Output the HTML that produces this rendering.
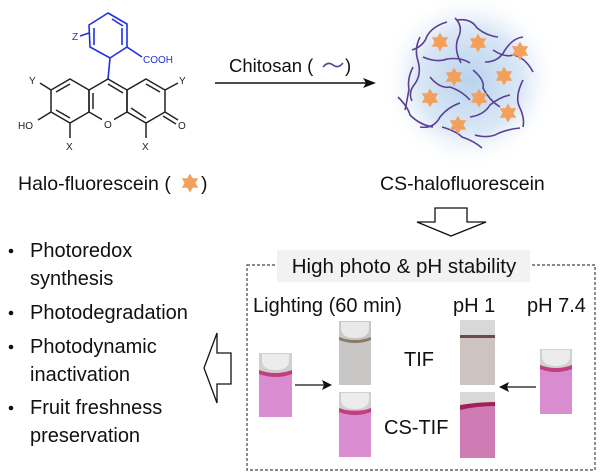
<!DOCTYPE html>
<html><head><meta charset="utf-8"><style>
html,body{margin:0;padding:0;background:#fff;}
svg{display:block;font-family:"Liberation Sans",Arial,sans-serif;}
</style></head><body>
<svg width="600" height="475" viewBox="0 0 600 475" xmlns="http://www.w3.org/2000/svg">
<defs>
<radialGradient id="glow" cx="0.5" cy="0.5" r="0.5">
<stop offset="0" stop-color="#b9d3ee"/>
<stop offset="0.6" stop-color="#dbe8f6"/>
<stop offset="1" stop-color="#ffffff" stop-opacity="0"/>
</radialGradient>
<polygon id="star" fill="#f3a05c" points="0,-9.5 2.7,-4.7 8.2,-4.7 5.4,0 8.2,4.7 2.7,4.7 0,9.5 -2.7,4.7 -8.2,4.7 -5.4,0 -8.2,-4.7 -2.7,-4.7"/>
</defs>

<!-- molecule -->
<g stroke="#2030e0" stroke-width="1.6" fill="none">
<polygon points="108,13 127,24 127,47 110,58 90,47 89,25"/>
<line x1="112" y1="19" x2="123" y2="26"/>
<line x1="122" y1="28" x2="122" y2="45"/>
<line x1="94" y1="45" x2="94" y2="28"/>
<line x1="127" y1="47" x2="142" y2="57"/>
<line x1="80" y1="36" x2="89" y2="33"/>
<line x1="110" y1="58" x2="108" y2="79"/>
</g>
<text x="72" y="40" font-size="10" fill="#2030e0">Z</text>
<text x="143" y="63" font-size="10" fill="#2030e0">COOH</text>
<g stroke="#222" stroke-width="1.5" fill="none">
<polygon points="70,79 89,90 89,112 70,123 51,112 51,90"/>
<polygon points="108,79 127,90 127,112 108,123 89,112 89,90"/>
<polygon points="146,79 165,90 165,112 146,123 127,112 127,90"/>
<line x1="70" y1="84" x2="56" y2="92"/>
<line x1="56" y1="110" x2="70" y2="118"/>
<line x1="93" y1="93" x2="93" y2="109"/>
<line x1="108" y1="84" x2="123" y2="93"/>
<line x1="146" y1="84" x2="160" y2="92"/>
<line x1="131" y1="108" x2="146" y2="118"/>
<line x1="51" y1="90" x2="40" y2="83"/>
<line x1="51" y1="112" x2="38" y2="120"/>
<line x1="70" y1="123" x2="70" y2="138"/>
<line x1="146" y1="123" x2="146" y2="138"/>
<line x1="165" y1="90" x2="178" y2="83"/>
<line x1="165" y1="112" x2="178" y2="120"/>
<line x1="163" y1="116" x2="176" y2="124"/>
</g>
<rect x="102" y="117" width="12" height="12" fill="#fff"/>
<g font-size="10" fill="#222">
<text x="29" y="84">Y</text>
<text x="18" y="129">HO</text>
<text x="66" y="150">X</text>
<text x="104" y="128">O</text>
<text x="179" y="84">Y</text>
<text x="178" y="129">O</text>
<text x="142" y="150">X</text>
</g>
<text x="18" y="190" font-size="19.5" fill="#111">Halo-fluorescein (</text>
<use href="#star" x="190" y="183"/>
<text x="201" y="190" font-size="19.5" fill="#111">)</text>

<!-- top arrow -->
<line x1="215" y1="83" x2="370" y2="83" stroke="#111" stroke-width="1.5"/>
<polygon points="376,83 363,78 366,83 363,88" fill="#111"/>
<text x="229" y="72" font-size="18.5" fill="#111">Chitosan (</text>
<path d="M323,67 q5,-6 10,-2 q5,4 10,-2" stroke="#5a3f95" stroke-width="1.6" fill="none"/>
<text x="345" y="72" font-size="18.5" fill="#111">)</text>

<!-- CS nanoparticle -->
<circle cx="470" cy="80" r="88" fill="url(#glow)"/>
<g stroke="#5a3f95" stroke-width="1.6" fill="none">
<path d="M412,50 q12,-4 15,-14 q6,-10 20,-14"/>
<path d="M455,18 q8,8 4,18 q-6,12 2,27"/>
<path d="M457,20 q14,-2 20,8 q10,8 21,9"/>
<path d="M420,37 q-6,12 -2,24 q4,14 -4,24 q-6,8 -2,16"/>
<path d="M423,57 q14,6 24,2 q14,-2 23,4"/>
<path d="M485,62 q14,0 20,-12 q8,-12 18,-13"/>
<path d="M493,50 q12,8 20,5 q12,2 20,17"/>
<path d="M430,77 q10,12 20,10 q12,4 20,13"/>
<path d="M473,70 q12,10 10,18 q6,12 17,19"/>
<path d="M398,97 q10,10 12,18 q10,10 23,12"/>
<path d="M420,127 q14,2 20,-10 q8,-10 20,-14"/>
<path d="M470,117 q14,-2 20,-12 q10,-8 20,-10"/>
<path d="M523,80 q-8,16 -4,26 q6,12 4,21"/>
<path d="M442,127 q14,4 20,10 q12,4 20,11"/>
<path d="M475,135 q14,4 24,-2 q10,-4 21,-5"/>
<path d="M413,67 q-6,12 -4,22 q-2,12 -4,21"/>
</g>
<use href="#star" x="440" y="42"/>
<use href="#star" x="478" y="43"/>
<use href="#star" x="520" y="51"/>
<use href="#star" x="454" y="77"/>
<use href="#star" x="504" y="76"/>
<use href="#star" x="430" y="98"/>
<use href="#star" x="479" y="98"/>
<use href="#star" x="508" y="113"/>
<use href="#star" x="458" y="125"/>
<text x="380" y="190" font-size="19.5" fill="#111">CS-halofluorescein</text>

<!-- down hollow arrow -->
<polygon points="435,208 467,208 467,222 486,222 451,236 417,222 435,222" fill="#fff" stroke="#111" stroke-width="1.3"/>

<!-- bullets -->
<g font-size="20" fill="#111">
<circle cx="11" cy="251" r="2.3"/>
<circle cx="11" cy="313" r="2.3"/>
<circle cx="11" cy="347" r="2.3"/>
<circle cx="11" cy="408" r="2.3"/>
<text x="30" y="257">Photoredox</text>
<text x="30" y="285">synthesis</text>
<text x="30" y="319">Photodegradation</text>
<text x="30" y="353">Photodynamic</text>
<text x="30" y="381">inactivation</text>
<text x="30" y="414">Fruit freshness</text>
<text x="30" y="442">preservation</text>
</g>
<!-- left hollow arrow -->
<polygon points="204,368 217,333 217,353 231,353 231,384 217,384 217,403" fill="#fff" stroke="#111" stroke-width="1.3"/>

<!-- dashed box -->
<rect x="247" y="265" width="348" height="205" fill="none" stroke="#444" stroke-width="1.2" stroke-dasharray="3,2"/>
<rect x="277" y="250" width="253" height="32" fill="#f2f2f2"/>
<text x="404" y="273" font-size="20.5" fill="#111" text-anchor="middle">High photo &amp; pH stability</text>
<g font-size="20" fill="#111">
<text x="253" y="312">Lighting (60 min)</text>
<text x="453" y="312">pH 1</text>
<text x="527" y="312">pH 7.4</text>
<text x="404" y="366">TIF</text>
<text x="384" y="434">CS-TIF</text>
</g>

<!-- vials -->
<g>
<rect x="259" y="353" width="33" height="64" fill="#d98dd0"/>
<rect x="259" y="353" width="33" height="20" fill="#d0d0d0"/>
<path d="M262,354 h27 v6 q0,10 -13.5,10 q-13.5,0 -13.5,-10z" fill="#ececec"/>
<path d="M259,370 q16,6 33,0 v4 q-16,6 -33,0z" fill="#c0407e"/>

<rect x="339" y="321" width="32" height="64" fill="#c9c7c5"/>
<path d="M341,322 h28 v6 q0,10 -14,10 q-14,0 -14,-10z" fill="#e9e9e9"/>
<path d="M339,337 q16,6 32,0 v3 q-16,6 -32,0z" fill="#8a7a6a"/>

<rect x="339" y="392" width="32" height="65" fill="#d98dd0"/>
<rect x="339" y="392" width="32" height="18" fill="#d0d0d0"/>
<path d="M341,393 h28 v6 q0,10 -14,10 q-14,0 -14,-10z" fill="#ececec"/>
<path d="M339,408 q16,6 32,0 v4 q-16,6 -32,0z" fill="#c0407e"/>

<rect x="460" y="320" width="35" height="65" fill="#cdc4c2"/>
<rect x="460" y="320" width="35" height="16" fill="#d8d8d8"/>
<rect x="460" y="335" width="35" height="3" fill="#6a4a4a"/>

<rect x="460" y="392" width="35" height="66" fill="#cf7cb4"/>
<rect x="460" y="392" width="35" height="13" fill="#d8d8d8"/>
<path d="M460,405 q18,-3 35,-3 v4 q-18,0 -35,4z" fill="#a0205a"/>

<rect x="540" y="349" width="32" height="65" fill="#d98dd0"/>
<rect x="540" y="349" width="32" height="19" fill="#d0d0d0"/>
<path d="M542,350 h28 v6 q0,10 -14,10 q-14,0 -14,-10z" fill="#ececec"/>
<path d="M540,365 q16,6 32,0 v4 q-16,6 -32,0z" fill="#c0407e"/>
</g>
<line x1="295" y1="385" x2="326" y2="385" stroke="#111" stroke-width="1.3"/>
<polygon points="332,385 322,380 324,385 322,390" fill="#111"/>
<line x1="536" y1="387" x2="505" y2="387" stroke="#111" stroke-width="1.3"/>
<polygon points="499,387 509,382 507,387 509,392" fill="#111"/>
</svg>
</body></html>
